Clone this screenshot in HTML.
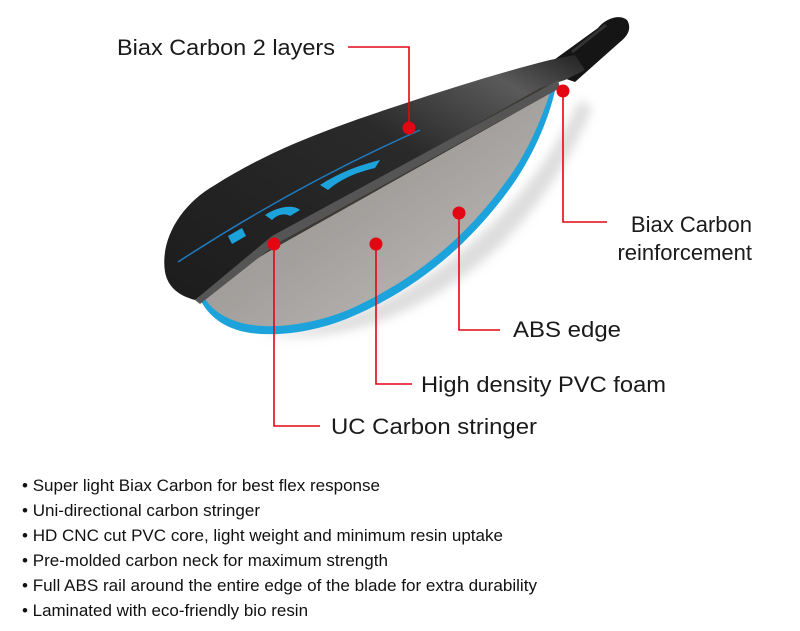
<!DOCTYPE html>
<html><head><meta charset="utf-8"><style>
html,body{margin:0;padding:0;background:#fff;}
svg{display:block;}
text{font-family:"Liberation Sans",sans-serif;}
</style></head><body>
<svg width="800" height="631" viewBox="0 0 800 631" xmlns="http://www.w3.org/2000/svg">
<defs>
<linearGradient id="carb" x1="0" y1="1" x2="1" y2="0">
<stop offset="0" stop-color="#1c1c1c"/><stop offset="0.6" stop-color="#2a2a2a"/><stop offset="0.85" stop-color="#5a5a5a"/><stop offset="1" stop-color="#222"/>
</linearGradient>
<linearGradient id="foam" x1="0" y1="0" x2="1" y2="1">
<stop offset="0" stop-color="#8e8a86"/><stop offset="0.5" stop-color="#a4a09d"/><stop offset="1" stop-color="#c4c1bf"/>
</linearGradient>
<filter id="sh"><feGaussianBlur stdDeviation="5"/></filter>
</defs>
<!-- shadow -->
<path d="M260,335 C340,330 420,290 480,235 C530,190 560,140 580,100 L592,108 C575,150 540,210 490,255 C420,315 340,345 260,335Z" fill="#bbb" filter="url(#sh)" opacity="0.5"/>
<!-- neck -->
<path d="M540,70 L598,28 C606,18 620,14 627,20 C632,28 628,36 620,42 L575,82 Z" fill="#151515"/>
<path d="M572,52 L606,25" stroke="#333" stroke-width="3"/>
<!-- blue edge + foam -->
<path d="M268,242 L556,86 C551,112 536,152 511,187 C471,242 421,287 351,317 C311,334 271,337 245,332 C220,327 205,312 198,295 Z" fill="#1ca3dc"/>
<path d="M268,240 L552,86 C545,110 530,150 505,183 C465,238 415,280 348,310 C308,326 270,329 246,324 C222,319 208,306 202,294 Z" fill="url(#foam)"/>
<!-- stringer -->
<path d="M205,290 L270,235 L552,80 L556,90 L280,245 L268,252 Z" fill="#3d3a34"/>
<!-- carbon top -->
<path d="M165,272 C160,240 180,205 215,185 C270,150 330,128 400,105 C460,85 510,70 550,60 L575,55 L585,70 L565,80 L540,88 L275,238 L205,292 L195,300 C180,296 168,288 165,272Z" fill="url(#carb)"/>
<path d="M195,300 L272,236 L548,86 L558,80 L560,88 L276,244 L200,304Z" fill="#555"/>
<!-- blue logo -->
<path d="M228,236 L242,228 L246,236 L232,244Z M265,215 C280,205 295,205 300,210 L290,216 C285,213 278,214 272,220Z M320,185 C340,172 360,165 380,160 L375,168 C358,172 342,178 328,190Z" fill="#1ca3dc"/>
<path d="M178,262 C250,215 330,170 420,130" stroke="#1f7ac0" stroke-width="1.5" fill="none"/>
<!-- leader lines -->
<g stroke="#e30613" stroke-width="1.6" fill="none">
<path d="M348,47 H409 V128"/>
<path d="M563,92 V222 H607"/>
<path d="M459,213 V330 H500"/>
<path d="M376,244 V384 H412"/>
<path d="M274,244 V426 H320"/>
</g>
<g fill="#e30613">
<circle cx="409" cy="128" r="6.5"/>
<circle cx="563" cy="91" r="6.5"/>
<circle cx="459" cy="213" r="6.5"/>
<circle cx="376" cy="244" r="6.5"/>
<circle cx="274" cy="244" r="6.5"/>
</g>
<g fill="#1a1a1a" font-size="22">
<text x="117" y="55" textLength="218" lengthAdjust="spacingAndGlyphs">Biax Carbon 2 layers</text>
<text x="752" y="232" text-anchor="end">Biax Carbon</text>
<text x="752" y="260" text-anchor="end">reinforcement</text>
<text x="513" y="337" textLength="108" lengthAdjust="spacingAndGlyphs">ABS edge</text>
<text x="421" y="392" textLength="245" lengthAdjust="spacingAndGlyphs">High density PVC foam</text>
<text x="331" y="434" textLength="206" lengthAdjust="spacingAndGlyphs">UC Carbon stringer</text>
</g>
<g fill="#111" font-size="17">
<text x="22" y="491" textLength="358" lengthAdjust="spacingAndGlyphs">• Super light Biax Carbon for best flex response</text>
<text x="22" y="516" textLength="238" lengthAdjust="spacingAndGlyphs">• Uni-directional carbon stringer</text>
<text x="22" y="541" textLength="481" lengthAdjust="spacingAndGlyphs">• HD CNC cut PVC core, light weight and minimum resin uptake</text>
<text x="22" y="566" textLength="366" lengthAdjust="spacingAndGlyphs">• Pre-molded carbon neck for maximum strength</text>
<text x="22" y="591" textLength="515" lengthAdjust="spacingAndGlyphs">• Full ABS rail around the entire edge of the blade for extra durability</text>
<text x="22" y="616" textLength="286" lengthAdjust="spacingAndGlyphs">• Laminated with eco-friendly bio resin</text>
</g>
</svg>
</body></html>
